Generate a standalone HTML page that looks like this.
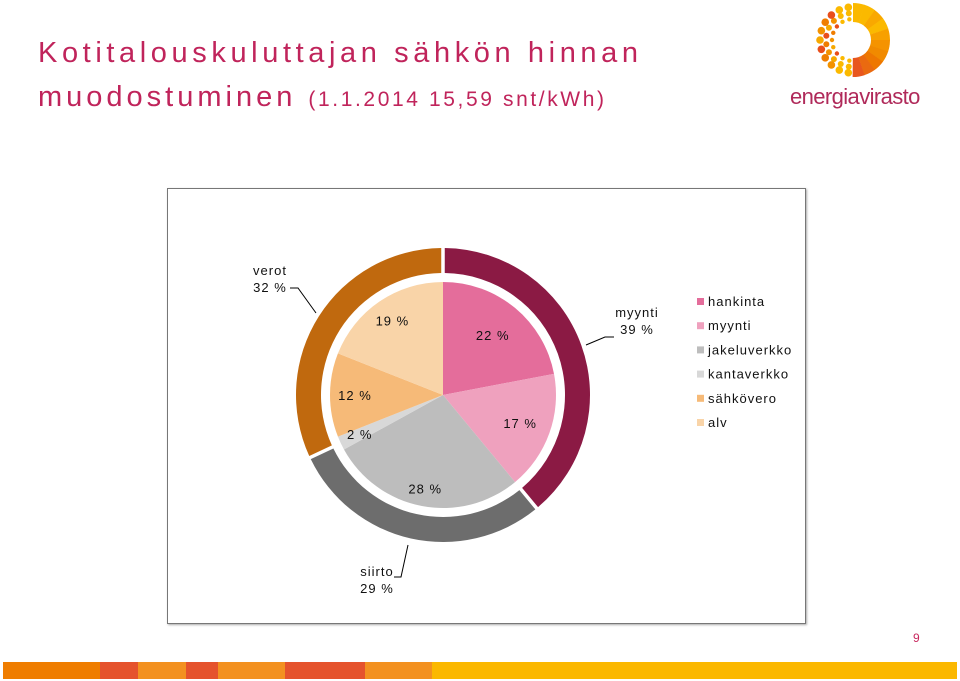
<!DOCTYPE html>
<html><head><meta charset="utf-8"><style>
body{margin:0;width:960px;height:681px;background:#fff;position:relative;overflow:hidden;font-family:"Liberation Sans",sans-serif}
.t{position:absolute;color:#c0245b;font-size:29px;letter-spacing:4.6px;left:38px;white-space:nowrap;line-height:33px}
</style></head><body>
<div class="t" style="top:37px">Kotitalouskuluttajan sähkön hinnan</div>
<div class="t" style="top:81px;letter-spacing:4px">muodostuminen <span style="font-size:21px;letter-spacing:2.6px">(1.1.2014 15,59 snt/kWh)</span></div>
<svg width="960" height="120" style="position:absolute;left:0;top:0" id="logo"></svg>
<div style="position:absolute;left:790px;top:84px;font-size:22px;color:#b02a5a;letter-spacing:-0.6px">energiavirasto</div>
<div style="position:absolute;left:167px;top:188px;width:637px;height:434px;border:1px solid #777;box-shadow:1px 1px 2px #aaa"></div>
<svg id="chart" width="960" height="681" style="position:absolute;left:0;top:0"></svg>
<div style="position:absolute;left:913px;top:631px;font-size:12px;color:#c8285e">9</div>
<div id="bar" style="position:absolute;left:3px;top:662px;width:954px;height:17px"></div>
<script>
const innerCats=["hankinta","myynti","jakeluverkko","kantaverkko","sähkövero","alv"];
const innerVals=[22,17,28,2,12,19];
const innerColors=["#e46d9b","#efa1be","#bdbdbd","#d8d8d8","#f6ba78","#f9d4a8"];
const outerCats=["myynti","siirto","verot"];
const outerVals=[39,29,32];
const outerColors=["#8b1a44","#6d6d6d","#c0690e"];
const NS="http://www.w3.org/2000/svg";
const svg=document.getElementById('chart');
const cx=443,cy=395;
function pt(r,a){return [cx+r*Math.sin(a),cy-r*Math.cos(a)];}
function mk(tag,attrs){const e=document.createElementNS(NS,tag);for(const k in attrs)e.setAttribute(k,attrs[k]);svg.appendChild(e);return e;}
function angleScale(vals){const s=vals.reduce((a,b)=>a+b,0);return v=>v/s*2*Math.PI;}
let sc=angleScale(outerVals),a=0;
outerVals.forEach((v,i)=>{
 const a0=a,a1=a+sc(v);a=a1;
 const g=0.012,r1=147,r0=122;
 const p0=pt(r1,a0+g),p1=pt(r1,a1-g),p2=pt(r0,a1-g*1.2),p3=pt(r0,a0+g*1.2);
 const lg=(a1-a0)>Math.PI?1:0;
 const e=mk('path',{d:`M${p0}A${r1},${r1} 0 ${lg} 1 ${p1}L${p2}A${r0},${r0} 0 ${lg} 0 ${p3}Z`,fill:outerColors[i]});
 
 
});
sc=angleScale(innerVals);a=0;
const innerLabels=[];
innerVals.forEach((v,i)=>{
 const a0=a,a1=a+sc(v);a=a1;const r=113;
 const p0=pt(r,a0),p1=pt(r,a1);const lg=(a1-a0)>Math.PI?1:0;
 const e=mk('path',{d:`M${cx},${cy}L${p0}A${r},${r} 0 ${lg} 1 ${p1}Z`,fill:innerColors[i]});
 
 
 innerLabels.push((a0+a1)/2);
});
const lblR=[78,82,95,92,88,90];
innerLabels.forEach((m,i)=>{
 const p=pt(lblR[i],m);
 const t=mk('text',{x:p[0],y:p[1]+5,'text-anchor':'middle','font-size':13,'letter-spacing':1,fill:'#111','font-family':'Liberation Sans, sans-serif'});
 t.textContent=innerVals[i]+' %';
 
 
});
function lab(x,y,lines,anchor,name){
 lines.forEach((s,k)=>{const t=mk('text',{x:x,y:y+k*17,'text-anchor':anchor,'font-size':13,'letter-spacing':1,fill:'#111','font-family':'Liberation Sans, sans-serif'});t.textContent=s;
 
 });
}
lab(270,275,["verot",outerVals[2]+" %"],'middle','label-verot');
lab(637,317,["myynti",outerVals[0]+" %"],'middle','label-myynti');
lab(377,576,["siirto",outerVals[1]+" %"],'middle','label-siirto');
mk('polyline',{points:"290,288 298,288 316,313",fill:'none',stroke:'#000','stroke-width':1});
mk('polyline',{points:"614,337 605,337 586,345",fill:'none',stroke:'#000','stroke-width':1});
mk('polyline',{points:"394,577 401,577 408,545",fill:'none',stroke:'#000','stroke-width':1});
innerCats.forEach((c,i)=>{
 const y=305+i*24.2;
 const r=mk('rect',{x:697,y:y-7,width:7,height:7,fill:innerColors[i]});
 
 
 const t=mk('text',{x:708,y:y+1,'font-size':13,'letter-spacing':1,fill:'#111','font-family':'Liberation Sans, sans-serif'});t.textContent=c;
 
 
});
// logo
const lg=document.getElementById('logo');
const lc=[853,40];
function add(tag,at){const e=document.createElementNS(NS,tag);for(const k in at)e.setAttribute(k,at[k]);lg.appendChild(e);}
const wc=["#fbb900","#fbb900","#f9a800","#fbb900","#f7a000","#f59300","#f18a00","#ee7700","#ea6a10","#e8561e"];
for(let j=0;j<10;j++){const a0=-Math.PI/2+j*Math.PI/10,a1=a0+Math.PI/10+0.01;
 const P=(r,a)=>[lc[0]+r*Math.cos(a),lc[1]+r*Math.sin(a)];
 add('path',{d:`M${P(18,a0)}A18,18 0 0 1 ${P(18,a1)}L${P(37,a1)}A37,37 0 0 0 ${P(37,a0)}Z`,fill:wc[j]});}
const dc=["#f39200","#ef7d00","#e94e1b","#f6a800"];
[[21,2.2,9],[27,3,10],[33,3.8,11]].forEach(([r,s,n],k)=>{
 for(let j=0;j<n;j++){const a=Math.PI/2+(j+0.5)*Math.PI/n;
  add('circle',{cx:lc[0]+r*Math.cos(a),cy:lc[1]+r*Math.sin(a),r:s,fill:(j<2||j>n-3)?"#fbb900":dc[(j+k)%4]});}});
const segs=[[97,"#ef7d00"],[38,"#e5532d"],[48,"#f39120"],[32,"#e5532d"],[67,"#f39120"],[80,"#e5532d"],[67,"#f39120"],[525,"#fbb800"]];
const bar=document.getElementById('bar');
segs.forEach(s=>{const d=document.createElement('div');d.style.cssText=`display:inline-block;width:${s[0]}px;height:17px;background:${s[1]};vertical-align:top`;bar.appendChild(d);});
</script>
</body></html>
